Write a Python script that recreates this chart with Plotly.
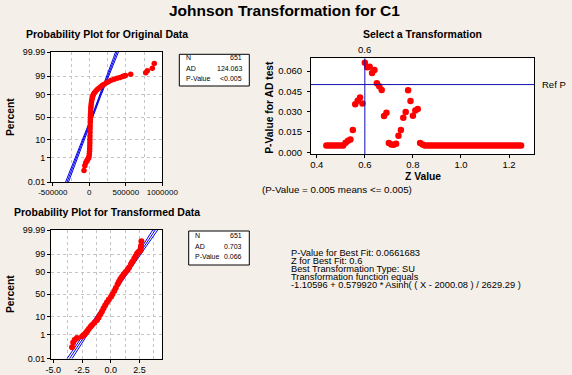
import plotly.graph_objects as go
from statistics import NormalDist

# ---------------- data ----------------
orig_pct = [0.11, 0.26, 0.42, 0.57, 0.72, 0.88, 1.0, 1.3, 1.8, 2.5,
            3.5, 5, 7, 10, 14, 19, 25, 31, 38, 44,
            50, 56, 62, 68, 73, 77, 81, 84, 86.5, 88.5,
            90, 91.5, 92.8, 94, 95, 95.8, 96.5, 97, 97.5, 97.9,
            98.2, 98.45, 98.65, 98.8, 98.97, 99.05, 99.12, 99.28, 99.43, 99.59,
            99.74, 99.89]
orig_val = [-73000, -62000, -50000, -38000, -26000, -15000, -8000, -3000, 0, 3000,
            5000, 6000, 7000, 8000, 9000, 10000, 11000, 12000, 13000, 14000,
            15000, 16500, 18000, 20000, 23000, 26000, 30000, 35000, 41000, 48000,
            56000, 68000, 85000, 105000, 130000, 155000, 180000, 205000, 235000, 265000,
            300000, 340000, 380000, 420000, 455000, 475000, 495000, 567000, 773000, 795000,
            863000, 890000]

trans_pct = [0.11, 0.26, 0.42, 0.57, 0.72, 0.88, 1.0, 1.3, 1.7, 2.2,
             3.0, 3.7, 5, 6.8, 9, 12.3, 16, 20.9, 26, 32.3,
             38, 44.4, 50, 57.5, 64, 72, 77, 81.3, 84.5, 87.7,
             90, 92.1, 94, 96, 97, 98.1, 98.6, 99.1, 99.28, 99.43,
             99.59, 99.74, 99.89]
trans_val = [-3.37, -3.27, -3.13, -2.94, -2.50, -2.37, -2.30, -2.16, -2.05, -1.91,
             -1.76, -1.63, -1.43, -1.20, -1.06, -0.91, -0.77, -0.63, -0.49, -0.33,
             -0.17, 0.02, 0.14, 0.30, 0.43, 0.59, 0.71, 0.83, 0.97, 1.11,
             1.29, 1.46, 1.59, 1.76, 1.87, 2.04, 2.15, 2.28, 2.40, 2.57,
             2.59, 2.62, 2.66]

z_values = [0.44, 0.45, 0.46, 0.47, 0.48, 0.49, 0.50, 0.51, 0.52, 0.53,
            0.54, 0.55, 0.56, 0.57, 0.58, 0.59, 0.60, 0.61, 0.62, 0.63,
            0.64, 0.65, 0.66, 0.67, 0.68, 0.69, 0.70, 0.71, 0.72, 0.73,
            0.74, 0.75, 0.76, 0.77, 0.78, 0.79, 0.80, 0.81, 0.82, 0.83,
            0.84, 0.85, 0.86, 0.87, 0.88, 0.89, 0.90, 0.91, 0.92, 0.93,
            0.94, 0.95, 0.96, 0.97, 0.98, 0.99, 1.00, 1.01, 1.02, 1.03,
            1.04, 1.05, 1.06, 1.07, 1.08, 1.09, 1.10, 1.11, 1.12, 1.13,
            1.14, 1.15, 1.16, 1.17, 1.18, 1.19, 1.20, 1.21, 1.22, 1.23,
            1.24, 1.25]
p_values = [0.005, 0.005, 0.005, 0.005, 0.005, 0.005, 0.005, 0.005, 0.007, 0.0085,
            0.0095, 0.0165, 0.0355, 0.038, 0.0405, 0.036, 0.0662, 0.0627, 0.0632, 0.0585,
            0.0608, 0.051, 0.0488, 0.046, 0.0268, 0.0292, 0.0068, 0.0058, 0.0055, 0.0062,
            0.0122, 0.0165, 0.0255, 0.0298, 0.0458, 0.0378, 0.027, 0.0308, 0.032, 0.0068,
            0.0058, 0.005, 0.005, 0.005, 0.005, 0.005, 0.005, 0.005, 0.005, 0.005,
            0.005, 0.005, 0.005, 0.005, 0.005, 0.005, 0.005, 0.005, 0.005, 0.005,
            0.005, 0.005, 0.005, 0.005, 0.005, 0.005, 0.005, 0.005, 0.005, 0.005,
            0.005, 0.005, 0.005, 0.005, 0.005, 0.005, 0.005, 0.005, 0.005, 0.005,
            0.005, 0.005]

n_obs = 651
orig_fit_mean, orig_fit_sd = 37000, 92000
trans_fit_mean, trans_fit_sd = 0.14, 1.0
best_z = 0.6
ref_p = 0.05

pct_ticks = [0.01, 1, 10, 50, 90, 99, 99.99]
pct_labels = ["0.01", "1", "10", "50", "90", "99", "99.99"]
orig_xticks = [-500000, 0, 500000, 1000000]
orig_xlabels = ["-500000", "0", "500000", "1000000"]
orig_xgrid = [-250000, 0, 250000, 500000, 750000]
trans_xticks = [-5.0, -2.5, 0.0, 2.5]
trans_xlabels = ["-5.0", "-2.5", "0.0", "2.5"]
trans_xgrid = [-3.75, -2.5, -1.25, 0, 1.25, 2.5, 3.75]
zval_ticks = [0.4, 0.6, 0.8, 1.0, 1.2]
zval_labels = ["0.4", "0.6", "0.8", "1.0", "1.2"]
pval_ticks = [0.0, 0.015, 0.03, 0.045, 0.06]
pval_labels = ["0.000", "0.015", "0.030", "0.045", "0.060"]
stats_orig = [("N", "651"), ("AD", "124.063"), ("P-Value", "&lt;0.005")]
stats_trans = [("N", "651"), ("AD", "0.703"), ("P-Value", "0.066")]
fit_text = ["P-Value for Best Fit: 0.0661683",
            "Z for Best Fit: 0.6",
            "Best Transformation Type: SU",
            "Transformation function equals",
            "-1.10596 + 0.579920 * Asinh( ( X - 2000.08 ) / 2629.29 )"]

# ---------------- helpers ----------------
W, H = 572, 375
FONT = "Liberation Sans, Arial, sans-serif"
BG = "#F4EFE9"
RED = "#FF0000"
BLUE = "#0000E6"
REFBLUE = "#1010B0"
GRID = "#C4C4C4"
ND = NormalDist()


def probit(p):
    return ND.inv_cdf(p / 100.0)


def px(x):
    return x / W


def py(y):
    return 1 - y / H


zlo, zhi = probit(0.01), probit(99.99)

fig = go.Figure()


def fit_traces(mean, sd, xa, ya):
    steps = 80
    zs = [zlo - 0.05 + (zhi - zlo + 0.1) * i / steps for i in range(steps + 1)]
    center = [mean + z * sd for z in zs]
    half = [1.96 * sd * ((1 + z * z / 2) / n_obs) ** 0.5 for z in zs]
    for sign in (-1, 0, 1):
        fig.add_trace(go.Scatter(
            x=[c + sign * h for c, h in zip(center, half)], y=zs,
            mode="lines", line=dict(color=BLUE, width=1),
            xaxis=xa, yaxis=ya, hoverinfo="skip", showlegend=False))


# original data plot
fit_traces(orig_fit_mean, orig_fit_sd, "x", "y")
fig.add_trace(go.Scatter(
    x=orig_val, y=[probit(p) for p in orig_pct], mode="markers",
    marker=dict(color=RED, size=5.5), xaxis="x", yaxis="y", showlegend=False))

# transformed data plot
fit_traces(trans_fit_mean, trans_fit_sd, "x2", "y2")
fig.add_trace(go.Scatter(
    x=trans_val, y=[probit(p) for p in trans_pct], mode="markers",
    marker=dict(color=RED, size=6), xaxis="x2", yaxis="y2", showlegend=False))

# select-a-transformation plot
fig.add_trace(go.Scatter(
    x=z_values, y=p_values, mode="markers",
    marker=dict(color=RED, size=6.5), xaxis="x3", yaxis="y3", showlegend=False))

common = dict(showline=True, linecolor="black", linewidth=1, mirror=True,
              ticks="outside", ticklen=3, tickcolor="black", zeroline=False,
              automargin=False,
              tickfont=dict(family=FONT, size=9, color="black"))
grid = dict(gridcolor=GRID, griddash="3px,3px", gridwidth=1)

prob_y = dict(common, range=[zlo, zhi], tickmode="array",
              tickvals=[probit(p) for p in pct_ticks], ticktext=pct_labels,
              showgrid=True, **grid)

fig.update_layout(
    width=W, height=H, autosize=False,
    margin=dict(l=0, r=0, t=0, b=0, pad=0, autoexpand=False),
    paper_bgcolor=BG, plot_bgcolor="white", showlegend=False,
    xaxis=dict(common, domain=[px(51), px(162.3)], anchor="y",
               range=[-525000, 1000000], tickmode="array",
               tickvals=orig_xticks, ticktext=orig_xlabels, showgrid=False,
               ticklabelstandoff=-1,
               tickfont=dict(family=FONT, size=8, color="black"),
               minor=dict(tickmode="array", tickvals=orig_xgrid, showgrid=True,
                          ticks="", **grid)),
    yaxis=dict(prob_y, domain=[py(182), py(52)], anchor="x"),
    xaxis2=dict(common, domain=[px(51), px(162)], anchor="y2",
                range=[-5.2, 4.45], tickmode="array",
                tickvals=trans_xticks, ticktext=trans_xlabels, showgrid=False,
                minor=dict(tickmode="array", tickvals=trans_xgrid, showgrid=True,
                           ticks="", **grid)),
    yaxis2=dict(prob_y, domain=[py(358.5), py(230)], anchor="x2"),
    xaxis3=dict(common, domain=[px(311), px(534.3)], anchor="y3",
                range=[0.376, 1.305], tickmode="array",
                tickvals=zval_ticks, ticktext=zval_labels, showgrid=False,
                ticklabelstandoff=-2,
                tickfont=dict(family=FONT, size=9.5, color="black")),
    yaxis3=dict(common, domain=[py(154.3), py(58.3)], anchor="x3",
                range=[-0.0015, 0.0694], tickmode="array",
                tickvals=pval_ticks, ticktext=pval_labels, showgrid=False,
                ticklabelstandoff=3,
                tickfont=dict(family=FONT, size=9.5, color="black")),
)

# reference lines in the selection plot
fig.add_shape(type="line", xref="x3", yref="y3 domain", x0=best_z, x1=best_z,
              y0=0, y1=1, line=dict(color=REFBLUE, width=1))
fig.add_shape(type="line", xref="x3 domain", yref="y3", x0=0, x1=1,
              y0=ref_p, y1=ref_p, line=dict(color=REFBLUE, width=1))

ann = []
DY = 2.0  # annotation boxes sit slightly low; lift them


def text(x, y, s, size, bold=False, anchor="center", angle=0, xref="paper", yref="paper"):
    ann.append(dict(x=x, y=y, xref=xref, yref=yref, text=("<b>%s</b>" % s) if bold else s,
                    showarrow=False, xanchor=anchor, yanchor="middle", textangle=angle,
                    font=dict(family=FONT, size=size, color="black")))


text(px(284), py(13 - DY), "Johnson Transformation for C1", 15.5, bold=True)
text(px(106.5), py(36 - DY), "Probability Plot for Original Data", 10.5, bold=True)
text(px(107), py(214.3 - DY), "Probability Plot for Transformed Data", 10.5, bold=True)
text(px(422), py(36 - DY), "Select a Transformation", 10.5, bold=True)
text(px(10), py(117), "Percent", 10.3, bold=True, angle=-90)
text(px(10), py(294), "Percent", 10.3, bold=True, angle=-90)
text(px(269.3), py(107.5), "P-Value for AD test", 10.3, bold=True, angle=-90)
text(px(422.7), py(176.5), "Z Value", 10.3, bold=True)
text(px(337), py(191.7 - DY), "(P-Value = 0.005 means &lt;= 0.005)", 9.8)
text(best_z, py(51.7 - DY), "0.6", 9.5, xref="x3")
text(px(540.3), ref_p, "Ref P", 9.5, anchor="left", yref="y3")
for i, line in enumerate(fit_text):
    text(px(289.3), py(254.3 - 1 + 8.0 * i), line, 9.3, anchor="left")


def stats_box(x0, x1, y0, y1, lx, rows_y, rows):
    fig.add_shape(type="rect", xref="paper", yref="paper", x0=px(x0), x1=px(x1),
                  y0=py(y1), y1=py(y0), line=dict(color="black", width=1),
                  fillcolor="white")
    for (lab, val), yy in zip(rows, rows_y):
        text(px(lx), py(yy - 1), lab, 7, anchor="left")
        text(px(x1 - 5), py(yy - 1), val, 7, anchor="right")


stats_box(179.3, 249.3, 54.3, 86, 184.3, [58.8, 69, 79.3], stats_orig)
stats_box(188.7, 249.3, 231, 265, 192.7, [236.7, 247.3, 257.5], stats_trans)

fig.update_layout(annotations=ann)
fig.write_html("out.html",
               config={"displayModeBar": False, "responsive": False},
               post_script="document.body.style.margin='0px';"
                           "document.body.style.overflow='hidden';")
